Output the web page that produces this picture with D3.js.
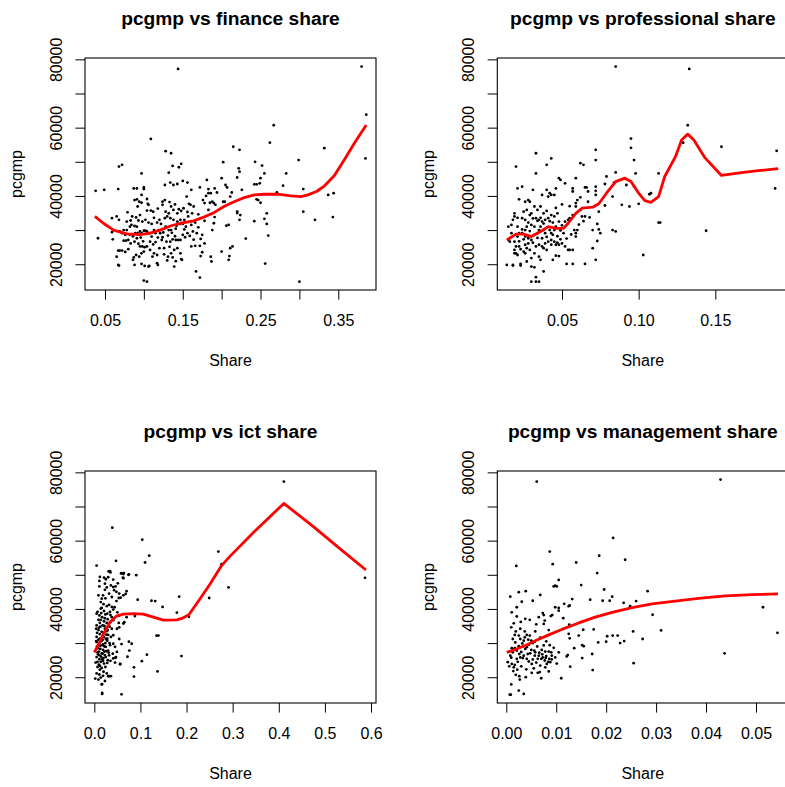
<!DOCTYPE html>
<html>
<head>
<meta charset="utf-8">
<script src="https://cdn.jsdelivr.net/npm/d3@7"></script>
<style>
body { margin: 0; background: #fff; }
text { font-family: "Liberation Sans", Arial, Helvetica, sans-serif; }
</style>
</head>
<body>
<svg id="chart" width="785" height="787"></svg>
<script>
// values: [share, pcgmp]
var finance = [
[0.144,77200],[0.380,77900],[0.386,63800],[0.385,51000],[0.267,60700],[0.262,55600],[0.215,54400],[0.223,53500],[0.109,56700],[0.128,53100],[0.135,52500],[0.332,54000],[0.299,50500],[0.283,46600],[0.305,42000],[0.305,35400],[0.320,33000],[0.343,33800],[0.337,40300],[0.344,40800],[0.300,14900],[0.256,20200],[0.260,28400],[0.258,31800],[0.255,33300],[0.258,34900],[0.271,41000],[0.279,43000],[0.243,50000],[0.252,48900],[0.255,46600],[0.250,45200],[0.249,43700],[0.245,43400],[0.242,43400],[0.245,39000],[0.247,38800],[0.250,38000],[0.242,32600],[0.222,48100],[0.223,47100],[0.226,41800],[0.220,45400],[0.220,35000],[0.224,34400],[0.223,33000],[0.220,35400],[0.231,27500],[0.214,25200],[0.211,24700],[0.210,22400],[0.209,21300],[0.200,23700],[0.209,31500],[0.206,31300],[0.211,39800],[0.213,41000],[0.207,42500],[0.205,43200],[0.202,49900],[0.200,45200],[0.204,38300],[0.202,38300],
[0.181,44700],[0.183,42000],[0.183,40800],[0.186,40800],[0.188,38300],[0.190,37900],[0.192,37400],[0.185,38000],[0.178,37900],[0.172,42500],[0.180,40000],[0.176,38800],[0.191,42200],[0.194,41000],[0.183,35900],[0.191,33800],[0.190,32000],[0.188,30000],[0.163,29600],[0.168,29100],[0.173,27400],[0.175,28600],[0.178,26100],[0.172,25400],[0.166,25400],[0.161,25200],[0.175,23500],[0.173,22400],[0.186,22200],[0.187,20800],[0.167,17900],[0.172,16100],[0.161,41800],[0.150,44400],[0.156,43900],[0.155,39800],[0.158,37700],[0.160,37400],[0.162,34900],[0.157,34000],[0.152,33000],[0.161,31500],[0.166,32200],[0.156,29100],[0.150,28600],[0.153,27900],[0.148,21500],[0.149,21300],[0.147,23200],
[0.148,49400],[0.145,48400],[0.137,48800],[0.132,46800],[0.138,43200],[0.143,43500],[0.148,35600],[0.145,36100],[0.143,34900],[0.138,35900],[0.135,36900],[0.132,34900],[0.128,35400],[0.130,34000],[0.134,33500],[0.138,33000],[0.143,32500],[0.147,33000],[0.146,31800],[0.150,31800],[0.141,30400],[0.135,30000],[0.132,30000],[0.128,31000],[0.125,29300],[0.127,33500],[0.124,37400],[0.127,38800],[0.124,38300],[0.120,33000],[0.117,32200],[0.119,30000],[0.121,29100],[0.124,27900],[0.123,27100],[0.129,26600],[0.134,26600],[0.137,27300],[0.141,27100],[0.144,27100],[0.147,27100],[0.143,24700],[0.139,24200],[0.135,23200],[0.137,22000],[0.141,20900],[0.139,19300],[0.130,21100],[0.131,22200],[0.126,24700],[0.120,24700],[0.117,22700],[0.118,19800],[0.117,20300],[0.111,22200],[0.113,23200],[0.108,26600],[0.110,28100],[0.107,29100],[0.113,30000],[0.115,29100],[0.110,31800],[0.106,32200],[0.109,35700],[0.112,35400],[0.105,37700],[0.106,37400],[0.104,39100],[0.100,42500],[0.097,46600],[0.104,14900],[0.100,15200],[0.106,19300],[0.107,19500],
[0.100,29800],[0.102,29800],[0.104,29600],[0.097,29100],[0.095,29600],[0.092,29100],[0.089,29100],[0.091,27600],[0.088,26600],[0.093,26000],[0.095,25200],[0.098,25200],[0.101,25000],[0.104,25200],[0.100,23700],[0.097,23200],[0.094,22200],[0.090,22700],[0.087,22000],[0.086,21300],[0.088,19800],[0.097,20100],[0.101,19500],[0.083,26100],[0.080,27100],[0.077,26900],[0.074,26900],[0.076,28600],[0.072,29100],[0.069,29600],[0.074,30000],[0.078,30000],[0.082,31000],[0.084,31500],[0.088,31200],[0.091,31000],[0.093,32800],[0.098,32500],[0.102,33000],[0.085,34000],[0.083,32800],[0.079,35200],[0.078,32500],[0.068,33000],[0.065,34000],[0.059,33500],[0.059,29400],[0.060,27300],[0.067,24000],[0.069,24000],[0.072,24000],[0.065,22200],[0.067,19800],[0.068,19600],[0.076,23600],[0.080,24400],[0.041,27600],[0.038,41500],[0.049,41800],[0.067,42000],[0.068,48600],[0.072,49100],[0.087,42200],[0.091,42200],[0.100,42000],[0.097,40300],[0.088,38800],[0.091,39000],[0.094,38300],[0.097,38000],[0.092,36900],[0.095,34400],[0.104,35700],[0.127,43200],[0.134,43900],
[0.115,26500],[0.118,27800],[0.122,31800],[0.131,28400],[0.136,29200],[0.140,28200],[0.142,31300],[0.152,30200],[0.154,31000],[0.159,28300],[0.164,27200],[0.170,30800],[0.108,24200],[0.112,25800],[0.096,27800],[0.099,26700],[0.086,28200],[0.082,28600],[0.090,33700],[0.113,33600],[0.118,36300],[0.133,38200],[0.140,37500],[0.151,36400],[0.156,35300],[0.164,36900],[0.170,34600],[0.178,32700],[0.126,22900],[0.133,25100]
];

var professional = [
[0.085,77900],[0.133,77200],[0.132,60700],[0.129,55600],[0.154,54400],[0.190,53200],[0.189,42200],[0.144,29800],[0.113,46600],[0.113,32200],[0.114,32200],[0.107,40500],[0.108,40800],[0.100,37700],[0.103,22700],[0.095,56800],[0.095,54100],[0.097,50500],[0.098,46600],[0.097,42700],[0.094,36900],[0.092,43200],[0.089,37400],[0.085,46900],[0.084,43900],[0.083,39800],[0.083,30000],[0.085,29600],[0.079,45700],[0.078,43500],[0.078,37200],[0.072,53500],[0.072,50500],[0.072,42700],[0.072,41500],[0.072,40300],[0.074,35400],[0.073,31800],[0.074,30200],[0.075,29100],[0.073,26800],[0.070,30000],[0.072,21300],[0.070,24700],[0.065,20100],[0.062,49600],[0.064,49100],[0.065,42500],[0.066,42500],[0.067,41300],[0.067,38300],[0.065,34000],[0.063,34000],[0.062,35900],[0.060,38800],[0.059,37900],[0.059,36900],[0.059,45200],[0.057,42200],[0.057,41300],[0.052,43700],[0.048,45200],[0.049,44700],[0.046,42200],[0.043,40300],[0.045,40300],[0.043,51000],[0.040,49100],[0.040,41800],[0.041,39800],[0.042,40800],[0.037,40300],[0.036,36900],[0.033,52500],[0.033,46600],[0.031,41800],[0.028,38800],[0.026,38300],[0.029,38300],[0.024,42700],[0.022,39000],[0.021,42200],[0.020,48600],[0.019,34900],[0.019,34000],[0.018,33000],[0.015,31000],[0.015,27100],[0.014,19800],[0.018,19800],[0.018,19600],[0.023,20100],[0.023,19600],[0.030,14900],[0.033,14900],[0.035,14900],[0.033,16200],[0.038,17900],[0.030,19300],[0.032,19100],[0.027,20800],[0.030,21800],[0.035,22200],[0.036,21300],[0.044,21300],[0.046,22500],[0.048,22400],[0.053,20100],[0.057,20100],[0.054,24200],[0.055,24200],[0.057,24200],[0.052,25200],[0.050,26100],[0.049,27300],[0.051,29100],[0.054,33000],[0.055,33500],[0.052,32500],[0.058,30000],[0.059,28100],[0.060,30000],[0.059,29100],[0.057,34400],[0.048,32500],[0.047,34900],[0.045,34000],[0.043,34400],[0.044,32200],[0.046,31000],[0.045,30000],[0.043,27100],[0.045,26600],[0.047,26300],[0.048,25700],[0.046,25700],[0.043,25700],[0.041,26600],[0.039,26100],[0.038,24700],[0.040,24200],[0.037,25200],[0.035,25700],[0.033,25200],[0.032,23200],[0.029,24200],[0.027,24700],[0.026,23200],[0.025,23700],[0.023,24400],[0.022,25200],[0.020,25200],[0.019,24200],[0.020,23200],[0.021,22700],[0.019,23200],[0.019,26600],[0.017,29100],[0.016,26600],[0.021,28100],[0.022,29100],[0.024,29100],[0.026,28100],[0.028,27600],[0.030,27100],[0.032,28600],[0.034,29100],[0.035,30000],[0.036,31000],[0.038,30000],[0.039,29100],[0.042,30000],[0.043,29100],[0.032,31000],[0.030,31500],[0.028,32200],[0.026,33000],[0.024,33500],[0.026,30000],[0.024,30200],[0.021,31000],[0.035,33000],[0.034,32700],[0.033,33500],[0.037,32500],[0.039,33000],[0.029,34400],[0.030,34900],[0.034,35900],[0.032,36900],[0.027,35900],[0.025,35400],[0.038,34900],[0.041,33500],
[0.022,26700],[0.025,27300],[0.028,26100],[0.031,26300],[0.034,27700],[0.037,27600],[0.040,28000],[0.042,32600],[0.044,28600],[0.047,28200],[0.050,31400],[0.053,27500],[0.056,28700],[0.061,31600],[0.064,32600],[0.068,33700],[0.026,25700],[0.029,29700],[0.031,33400],[0.036,33600],[0.040,35600],[0.046,36500],[0.050,37500],[0.055,37000],[0.062,39600],[0.021,33600],[0.017,31500],[0.027,31000],[0.038,31900],[0.049,29900]
];

var ict = [
[0.411,77300],[0.587,49100],[0.269,56800],[0.276,53100],[0.291,46300],[0.249,43200],[0.205,37700],[0.184,43600],[0.179,38900],[0.189,26200],[0.148,40600],[0.132,42300],[0.124,42400],[0.135,32200],[0.139,32200],[0.137,21700],[0.114,26600],[0.103,24700],[0.119,55600],[0.110,53600],[0.104,60300],[0.086,20200],[0.086,22900],[0.081,29800],[0.075,30400],[0.076,27800],[0.072,26000],[0.094,42700],[0.091,49900],[0.074,50000],[0.070,45200],[0.068,44400],[0.065,36100],[0.088,37900],[0.059,15000],[0.039,63800],[0.047,54100],[0.058,50400],[0.062,49200],[0.063,50200],[0.017,15100],[0.016,17900],[0.005,52700],
[0.034,51100],[0.031,51000],[0.035,50700],[0.059,50500],[0.012,49400],[0.021,49200],[0.011,48200],[0.025,48700],[0.041,48600],[0.063,49000],[0.075,50100],[0.011,46600],[0.041,46400],[0.046,46600],[0.043,45500],[0.048,45000],[0.054,44500],[0.057,43300],[0.053,43200],[0.063,44000],[0.023,47400],[0.027,46300],[0.023,45600],[0.032,44500],[0.038,43500],[0.016,43000],[0.019,44000],[0.009,44000],[0.014,42000],[0.020,41400],[0.027,40800],[0.032,41200],[0.038,40600],[0.041,39800],[0.034,39100],[0.028,38600],[0.021,39400],[0.014,40100],[0.007,39100],[0.005,38600],[0.011,38100],[0.017,37600],[0.023,37300],[0.029,37000],[0.038,37600],[0.041,36700],[0.034,36100],[0.027,35900],[0.021,36400],[0.012,35900],[0.005,35200],[0.004,34200],[0.009,33800],[0.016,33300],[0.023,34200],[0.029,33800],[0.038,34200],[0.041,32300],[0.036,31800],[0.028,31300],[0.021,31800],[0.012,31300],[0.005,31800],[0.005,30300],[0.011,29800],[0.018,29400],[0.025,28900],[0.034,29400],[0.041,29800],[0.045,28900],[0.049,27400],[0.040,26900],[0.032,26400],[0.025,25900],[0.018,26900],[0.011,26400],[0.005,25900],[0.007,24500],[0.014,24500],[0.021,24000],[0.028,24200],[0.035,24800],[0.041,25500],[0.047,25900],[0.007,23000],[0.012,22200],[0.020,21600],[0.027,21100],[0.005,21100],[0.002,19600],[0.009,19300],[0.014,19900],[0.023,18900],[0.032,20300],[0.036,20300],[0.017,18000],[0.017,15400],[0.056,23800],[0.045,24300],[0.059,29700],[0.054,31200],[0.049,34200],[0.054,34600],[0.053,35900],[0.063,35700],[0.070,37600],[0.054,38100],[0.050,39000],
[0.010,27500],[0.013,28300],[0.016,27000],[0.019,28000],[0.022,27500],[0.015,30500],[0.018,31000],[0.024,30000],[0.012,32600],[0.020,33000],[0.026,32500],[0.008,28500],[0.011,25300],[0.017,25200],[0.023,26500],[0.030,27800],[0.028,30700],[0.009,36800],[0.015,38800],[0.013,34800],[0.006,33000],[0.010,23700],[0.016,22700],[0.024,23000],[0.008,26700],[0.019,29600],[0.022,35000],[0.027,33500],[0.033,30000],[0.031,27200],[0.046,25700],[0.056,23900],[0.030,20300],[0.064,50500],
[0.006,29000],[0.009,31000],[0.013,29200],[0.015,26000],[0.019,24800],[0.022,29000],[0.025,31200],[0.014,36800],[0.018,35200],[0.024,38400],[0.030,32400],[0.033,34800],[0.010,34500],[0.007,27300],[0.012,23300],[0.020,25600],[0.026,27600],[0.029,25000],[0.016,40300],[0.035,38200],[0.044,40500],[0.048,42300],[0.051,47500],[0.036,46900],[0.030,49300],[0.024,43100],[0.004,30600],[0.011,20800],[0.019,20400],[0.003,24300]
];

var management = [
[0.0429,77900],[0.0061,77300],[0.0214,60800],[0.0186,55600],[0.0238,54400],[0.0140,53600],[0.0087,56800],[0.0093,53100],[0.0020,52600],[0.0182,50500],[0.0105,48500],[0.0098,46800],[0.0101,46600],[0.0095,46600],[0.0150,47000],[0.0196,45700],[0.0283,45200],[0.0025,44900],[0.0039,45200],[0.0068,44100],[0.0008,43600],[0.0212,43600],[0.0207,42400],[0.0193,42400],[0.0132,42900],[0.0053,42400],[0.0031,42100],[0.0168,42700],[0.0260,42300],[0.0235,41800],[0.0248,40800],[0.0116,41500],[0.0125,40800],[0.0127,41000],[0.0021,40500],[0.0514,40500],[0.0105,40300],[0.0098,40500],[0.0011,39000],[0.0293,38300],[0.0073,38800],[0.0075,38200],[0.0092,38200],[0.0089,37900],[0.0105,39500],[0.0114,37300],[0.0021,37800],[0.0038,37100],[0.0065,37600],[0.0077,36600],[0.0075,35600],[0.0010,34600],[0.0126,35400],[0.0154,33900],[0.0175,34000],[0.0310,33700],[0.0254,33400],[0.0543,33000],[0.0202,32000],[0.0213,32200],[0.0223,32200],[0.0228,30000],[0.0273,31200],[0.0236,30600],[0.0200,30400],[0.0184,30200],[0.0125,32700],[0.0127,31400],[0.0145,32200],[0.0152,29400],[0.0155,29100],[0.0136,28500],[0.0172,26800],[0.0123,26500],[0.0121,26100],[0.0105,27300],[0.0152,25600],[0.0128,23100],[0.0173,22100],[0.0255,24100],[0.0437,27000],[0.0110,19700],[0.0025,16100],[0.0035,15100],[0.0009,14900],[0.0007,14900],[0.0010,17900],[0.0039,20000],[0.0026,20300],[0.0027,19300],[0.0019,20700],[0.0070,19700],[0.0051,21300],[0.0063,21300],[0.0067,21500],[0.0085,21700],[0.0078,22900],[0.0088,24400],[0.0091,25200],[0.0086,25400],[0.0070,25400],[0.0077,24900],[0.0073,25800],[0.0079,25700],[0.0065,26300],[0.0063,25400],[0.0068,23400],[0.0051,23900],[0.0055,22600],[0.0041,25400],[0.0045,24600],[0.0035,26300],[0.0033,25600],[0.0028,25800],[0.0021,25400],[0.0017,23600],[0.0015,22900],[0.0011,23900],[0.0003,24400],[0.0006,23200],[0.0008,26300],[0.0013,27300],[0.0017,28500],[0.0021,27800],[0.0026,26800],[0.0038,28300],[0.0041,28800],[0.0045,29500],[0.0050,28000],[0.0056,27800],[0.0058,27300],[0.0057,26300],[0.0071,28000],[0.0078,27500],[0.0085,27500],[0.0090,27300],[0.0091,26300],[0.0081,23900],[0.0075,29300],[0.0035,30700],[0.0037,31700],[0.0028,31200],[0.0025,32200],[0.0018,30200],[0.0013,31200],[0.0017,32400],[0.0019,33400],[0.0028,34200],[0.0037,33400],[0.0041,32400],[0.0047,32200],[0.0058,33400],[0.0050,30700],[0.0057,30400],[0.0034,29100],[0.0025,29100],[0.0011,28500],
[0.0010,25700],[0.0023,24500],[0.0030,27400],[0.0043,26800],[0.0048,27000],[0.0053,25200],[0.0060,24300],[0.0066,27200],[0.0072,26700],[0.0080,26200],[0.0084,24500],[0.0030,23200],[0.0040,22300],[0.0014,21800],[0.0022,22200],[0.0032,29900],[0.0044,31000],[0.0053,30000],[0.0062,29000],[0.0068,31600],[0.0080,30500],[0.0087,29400],[0.0095,28600],[0.0098,25800],[0.0101,24000],[0.0060,35500],[0.0047,36800],[0.0029,36200],[0.0015,35800],[0.0085,33800]
];

// smoothed (red) lines
var financeFit = [[0.037,34000],[0.048,32000],[0.061,30000],[0.078,28900],[0.095,28700],[0.108,29100],[0.121,30000],[0.134,31200],[0.147,32000],[0.164,32700],[0.177,33800],[0.190,35100],[0.203,36900],[0.216,38300],[0.229,39500],[0.242,40300],[0.255,40500],[0.272,40500],[0.289,40000],[0.302,39800],[0.311,40300],[0.322,41300],[0.332,42900],[0.345,46000],[0.358,50700],[0.371,55600],[0.386,60800]];
var professionalFit = [[0.014,27100],[0.020,28800],[0.025,28800],[0.030,28100],[0.036,29600],[0.041,31000],[0.046,30500],[0.051,30500],[0.054,32000],[0.059,34900],[0.063,36400],[0.070,36700],[0.074,37700],[0.079,40800],[0.085,44200],[0.091,45200],[0.095,44200],[0.100,40800],[0.104,38600],[0.108,38100],[0.113,39800],[0.117,45700],[0.124,51500],[0.128,56400],[0.132,58100],[0.136,56400],[0.143,51300],[0.154,46000],[0.167,46800],[0.178,47400],[0.191,48000]];
var ictFit = [[0.000,27300],[0.009,29600],[0.020,32700],[0.034,36100],[0.048,37900],[0.063,38500],[0.085,38600],[0.106,38500],[0.128,37600],[0.150,36700],[0.179,36800],[0.193,37400],[0.205,38300],[0.229,42900],[0.251,47300],[0.276,52700],[0.294,55400],[0.345,62400],[0.411,70900],[0.475,64100],[0.533,57600],[0.589,51400]];
var managementFit = [[0.0001,27300],[0.0018,28100],[0.0038,29300],[0.0058,30700],[0.0085,32400],[0.0111,34000],[0.0145,35900],[0.0178,37600],[0.0212,39000],[0.0252,40400],[0.0292,41500],[0.0338,42300],[0.0385,43100],[0.0439,43800],[0.0492,44200],[0.0544,44400]];

// axis ranges and ticks
var yDomain = [12450, 80400];
var yTicks = [20000, 30000, 40000, 50000, 60000, 70000, 80000];
var yTickLabels = ["20000", "", "40000", "", "60000", "", "80000"];

var financeDomain = [0.0243, 0.3985];
var financeTicks = [0.05, 0.10, 0.15, 0.20, 0.25, 0.30, 0.35];
var financeTickLabels = ["0.05", "", "0.15", "", "0.25", "", "0.35"];

var professionalDomain = [0.0078, 0.1976];
var professionalTicks = [0.05, 0.10, 0.15];
var professionalTickLabels = ["0.05", "0.10", "0.15"];

var ictDomain = [-0.0202, 0.6108];
var ictTicks = [0, 0.1, 0.2, 0.3, 0.4, 0.5, 0.6];
var ictTickLabels = ["0.0", "0.1", "0.2", "0.3", "0.4", "0.5", "0.6"];

var managementDomain = [-0.0018, 0.05647];
var managementTicks = [0, 0.01, 0.02, 0.03, 0.04, 0.05];
var managementTickLabels = ["0.00", "0.01", "0.02", "0.03", "0.04", "0.05"];

var svg = d3.select("#chart");
var boxW = 291, boxH = 232;
var tickLen = 9.6;

function drawPanel(p, idx) {
  var g = svg.append("g").attr("transform", "translate(" + p.left + "," + p.top + ")");

  var x = d3.scaleLinear().domain(p.xDomain).range([0, boxW]);
  var y = d3.scaleLinear().domain(yDomain).range([boxH, 0]);

  // title
  g.append("text")
    .attr("x", boxW / 2).attr("y", -33)
    .attr("text-anchor", "middle")
    .attr("font-size", 19.2).attr("font-weight", "bold")
    .text(p.title);

  // x axis
  var xa = g.append("g")
    .attr("transform", "translate(0," + boxH + ")")
    .call(d3.axisBottom(x).tickValues(p.xTicks).tickSize(tickLen).tickSizeOuter(0)
      .tickFormat(function(d, i) { return p.xLabels[i]; }));
  xa.select(".domain").remove();
  xa.attr("font-size", 16).attr("font-family", null);
  xa.selectAll("line").attr("stroke", "#000");
  xa.selectAll("text").attr("y", 36.3).attr("dy", 0).attr("fill", "#000");

  // y axis
  var ya = g.append("g")
    .call(d3.axisLeft(y).tickValues(yTicks).tickSize(tickLen).tickSizeOuter(0)
      .tickFormat(function(d, i) { return yTickLabels[i]; }));
  ya.select(".domain").remove();
  ya.attr("font-size", 16).attr("font-family", null);
  ya.selectAll("line").attr("stroke", "#000");
  ya.selectAll("text")
    .attr("x", 0).attr("dy", 0).attr("fill", "#000")
    .attr("text-anchor", "middle")
    .attr("transform", "translate(-23.3,0) rotate(-90)");

  // axis titles
  g.append("text")
    .attr("x", boxW / 2).attr("y", boxH + 75.5)
    .attr("text-anchor", "middle").attr("font-size", 16)
    .text("Share");
  g.append("text")
    .attr("transform", "translate(-63.4," + (boxH / 2) + ") rotate(-90)")
    .attr("text-anchor", "middle").attr("font-size", 16)
    .text("pcgmp");

  // points
  g.append("g").selectAll("circle")
    .data(p.points)
    .join("circle")
    .attr("cx", function(d) { return x(d[0]); })
    .attr("cy", function(d) { return y(d[1]); })
    .attr("r", 1.4)
    .attr("fill", "#000");

  // clip for the fitted line
  g.append("clipPath").attr("id", "clip" + idx)
    .append("rect").attr("width", boxW).attr("height", boxH);

  var line = d3.line()
    .x(function(d) { return x(d[0]); })
    .y(function(d) { return y(d[1]); });

  g.append("path")
    .datum(p.fit)
    .attr("clip-path", "url(#clip" + idx + ")")
    .attr("fill", "none")
    .attr("stroke", "#ff0000")
    .attr("stroke-width", 2.8)
    .attr("stroke-linejoin", "round")
    .attr("d", line);

  // box
  g.append("rect")
    .attr("width", boxW).attr("height", boxH)
    .attr("fill", "none").attr("stroke", "#000").attr("stroke-width", 1.1);
}

var panels = [
  {left: 85, top: 58, title: "pcgmp vs finance share", points: finance, fit: financeFit,
   xDomain: financeDomain, xTicks: financeTicks, xLabels: financeTickLabels},
  {left: 497.3, top: 58, title: "pcgmp vs professional share", points: professional, fit: professionalFit,
   xDomain: professionalDomain, xTicks: professionalTicks, xLabels: professionalTickLabels},
  {left: 85, top: 471, title: "pcgmp vs ict share", points: ict, fit: ictFit,
   xDomain: ictDomain, xTicks: ictTicks, xLabels: ictTickLabels},
  {left: 497.3, top: 471, title: "pcgmp vs management share", points: management, fit: managementFit,
   xDomain: managementDomain, xTicks: managementTicks, xLabels: managementTickLabels}
];

panels.forEach(drawPanel);
</script>
</body>
</html>
